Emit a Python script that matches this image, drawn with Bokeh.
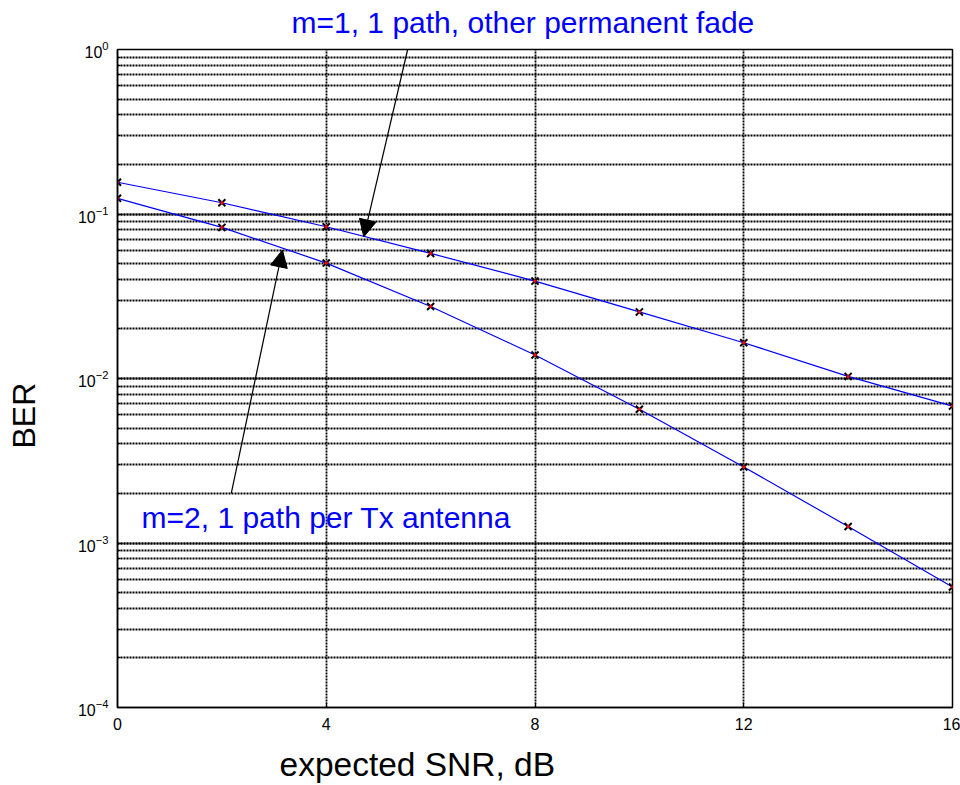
from bokeh.plotting import figure
from bokeh.models import Label, Arrow, NormalHead, FixedTicker, Title
from bokeh.embed import file_html
from bokeh.resources import INLINE

# ---- data ----
snr_db = [0, 2, 4, 6, 8, 10, 12, 14, 16]
ber_m1 = [0.156, 0.117, 0.0837, 0.0576, 0.0391, 0.0254, 0.0165, 0.0103, 0.0068]
ber_m2 = [0.1245, 0.0829, 0.0503, 0.0274, 0.0139, 0.0065, 0.0029, 0.00126, 0.00054]
x_ticks = [0, 4, 8, 12, 16]
label_m1 = "m=1, 1 path, other permanent fade"
label_m2 = "m=2, 1 path per Tx antenna"
x_label = "expected SNR, dB"
y_label = "BER"

FONT = "Liberation Sans"

p = figure(width=960, height=785, x_range=(0, 16), y_range=(1e-4, 1),
           y_axis_type="log", output_backend="svg", toolbar_location=None,
           min_border_left=117, min_border_right=8, min_border_top=49,
           min_border_bottom=78)

p.background_fill_color = "white"
p.outline_line_color = "black"
p.outline_line_width = 1.5

# grid
p.xgrid.ticker = FixedTicker(ticks=x_ticks)
p.xaxis.ticker = FixedTicker(ticks=x_ticks)
for g in (p.xgrid, p.ygrid):
    g.grid_line_color = "black"
    g.grid_line_dash = "2 1"
    g.grid_line_width = 1.8
    g.grid_line_alpha = 1.0
p.ygrid.minor_grid_line_color = "black"
p.ygrid.minor_grid_line_dash = "2 1"
p.ygrid.minor_grid_line_width = 1.8

# axes
for ax in (p.xaxis, p.yaxis):
    ax.axis_line_color = "black"
    ax.axis_line_width = 1.5
    ax.major_tick_in = 5
    ax.major_tick_out = 0
    ax.minor_tick_in = 3
    ax.minor_tick_out = 0
    ax.major_label_text_font = FONT
    ax.major_label_text_font_size = "16px"
    ax.major_label_text_color = "black"

p.yaxis.ticker.num_minor_ticks = 10
p.xaxis.major_label_standoff = 10
p.yaxis.major_label_standoff = 9


def spacer(px):
    return Title(text=" ", text_font_size="1px", standoff=px)


def side_title(text, size, color, offset):
    return Title(text=text, text_font=FONT, text_font_size=size,
                 text_font_style="normal", text_color=color,
                 align="left", offset=offset, standoff=0)


# top annotation (outside frame)
p.add_layout(spacer(8), "above")
p.add_layout(side_title(label_m1, "30px", "blue", 174), "above")
# x label
p.add_layout(spacer(8), "below")
p.add_layout(side_title(x_label, "33.5px", "black", 162), "below")
# y label
p.add_layout(spacer(30), "left")
p.add_layout(side_title(y_label, "32px", "black", 259), "left")

# curves
for ber in (ber_m1, ber_m2):
    p.line(snr_db, ber, line_color="blue", line_width=1.2)
    p.scatter(snr_db, ber, marker="x", size=10, line_color="black", line_width=2)
    p.scatter(snr_db, ber, marker="circle", size=2.5, line_color="red", fill_color="red")

# annotation inside
p.add_layout(Label(x=4.0, y=0.00142, text=label_m2, text_color="blue",
                   text_font=FONT, text_font_size="30px",
                   text_align="center", text_baseline="middle"))

head1 = NormalHead(size=17, fill_color="black", line_color="black")
p.add_layout(Arrow(end=head1, x_start=5.56, y_start=1.0, x_end=4.72, y_end=0.0727,
                   line_color="black", line_width=1.2))
head2 = NormalHead(size=17, fill_color="black", line_color="black")
p.add_layout(Arrow(end=head2, x_start=2.18, y_start=0.0020, x_end=3.16, y_end=0.0604,
                   line_color="black", line_width=1.2))

open("out.html", "w").write(file_html(p, INLINE))
